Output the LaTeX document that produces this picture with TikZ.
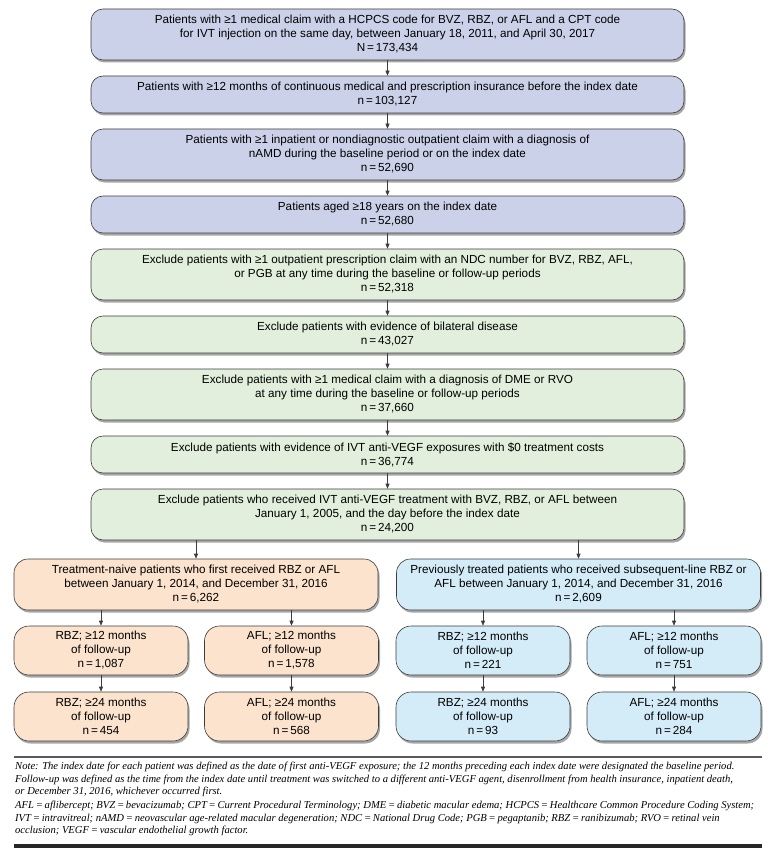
\documentclass[tikz,border=0pt]{standalone}
\usepackage{fontspec}
\setmainfont{Liberation Serif}
\setsansfont{Liberation Sans}
\usetikzlibrary{arrows.meta,shadows}
\definecolor{ink}{HTML}{3C3C3C}
\definecolor{lavender}{HTML}{CBD1E8}
\definecolor{mint}{HTML}{E1EFDC}
\definecolor{peach}{HTML}{FBE3CD}
\definecolor{sky}{HTML}{D3ECF8}
\definecolor{rulegray}{HTML}{5A5A5A}

\begin{document}
\begin{tikzpicture}[x=1pt,y=-1pt,>={Triangle[length=5pt,width=4pt]},
  font=\sffamily\fontsize{11.7}{14}\selectfont,
  flow/.style={draw=ink,line width=.6pt,align=center,inner sep=2pt,
    drop shadow={shadow xshift=1.5pt,shadow yshift=-2.5pt,opacity=.35,fill=black}},
  threeline/.style={flow,rounded corners=12pt,minimum width=593pt,minimum height=51pt},
  twoline/.style={flow,rounded corners=12pt,minimum width=593pt,minimum height=37pt},
  arm/.style={flow,rounded corners=14pt,minimum width=364pt,minimum height=51pt},
  leaf/.style={flow,rounded corners=15pt,minimum width=174pt,minimum height=49pt},
  link/.style={->,ink,line width=.6pt}]
  \useasboundingbox (0,0) rectangle (773,861);

  % Inclusion steps
  \node[threeline,fill=lavender] (claim) at (387.5,34.5) {Patients with ≥1 medical claim with a HCPCS code for BVZ, RBZ, or AFL and a CPT code\\for IVT injection on the same day, between January 18, 2011, and April 30, 2017\\N\,=\,173,434};
  \node[twoline,fill=lavender] (insur) at (387.5,94.5) {Patients with ≥12 months of continuous medical and prescription insurance before the index date\\n\,=\,103,127};
  \node[threeline,fill=lavender] (namd) at (387.5,154.5) {Patients with ≥1 inpatient or nondiagnostic outpatient claim with a diagnosis of\\nAMD during the baseline period or on the index date\\n\,=\,52,690};
  \node[twoline,fill=lavender] (age) at (387.5,214.5) {Patients aged ≥18 years on the index date\\n\,=\,52,680};

  % Exclusion steps
  \node[threeline,fill=mint] (ndc) at (387.5,274.5) {Exclude patients with ≥1 outpatient prescription claim with an NDC number for BVZ, RBZ, AFL,\\or PGB at any time during the baseline or follow-up periods\\n\,=\,52,318};
  \node[twoline,fill=mint] (bilat) at (387.5,334.5) {Exclude patients with evidence of bilateral disease\\n\,=\,43,027};
  \node[threeline,fill=mint] (dme) at (387.5,394.5) {Exclude patients with ≥1 medical claim with a diagnosis of DME or RVO\\at any time during the baseline or follow-up periods\\n\,=\,37,660};
  \node[twoline,fill=mint] (zero) at (387.5,454.5) {Exclude patients with evidence of IVT anti-VEGF exposures with \$0 treatment costs\\n\,=\,36,774};
  \node[threeline,fill=mint] (prior) at (387.5,514.5) {Exclude patients who received IVT anti-VEGF treatment with BVZ, RBZ, or AFL between\\January 1, 2005, and the day before the index date\\n\,=\,24,200};

  \foreach \a/\b in {claim/insur,insur/namd,namd/age,age/ndc,ndc/bilat,bilat/dme,dme/zero,zero/prior}
    \draw[link] (\a) -- (\b);

  % Cohorts
  \node[arm,fill=peach] (naive) at (196,584.5) {Treatment-naive patients who first received RBZ or AFL\\between January 1, 2014, and December 31, 2016\\n\,=\,6,262};
  \node[arm,fill=sky] (treated) at (578.5,584.5) {Previously treated patients who received subsequent-line RBZ or\\AFL between January 1, 2014, and December 31, 2016\\n\,=\,2,609};
  \draw[link] (prior.south -| naive.north) -- (naive.north);
  \draw[link] (prior.south -| treated.north) -- (treated.north);

  \foreach \id/\x/\col/\up/\drug/\na/\nb in {nr/101/peach/naive/RBZ/{1,087}/454,na/291.5/peach/naive/AFL/{1,578}/568,
      tr/483/sky/treated/RBZ/221/93,ta/674/sky/treated/AFL/751/284}{
    \node[leaf,fill=\col] (\id12) at (\x,650.5) {\drug; ≥12 months\\of follow-up\\n\,=\,\na};
    \node[leaf,fill=\col] (\id24) at (\x,716.5) {\drug; ≥24 months\\of follow-up\\n\,=\,\nb};
    \draw[link] (\up.south -| \id12.north) -- (\id12.north);
    \draw[link] (\id12) -- (\id24);
  }

  % Footnote
  \draw[rulegray,line width=1.6pt] (14,757) -- (762,757);
  \node[anchor=north west,align=left,inner sep=0pt,font=\rmfamily\itshape\fontsize{10.6}{12.4}\selectfont] (note) at (15,762)
    {Note: The index date for each patient was defined as the date of first anti-VEGF exposure; the 12 months preceding each index date were designated the baseline period.\\
     Follow-up was defined as the time from the index date until treatment was switched to a different anti-VEGF agent, disenrollment from health insurance, inpatient death,\\
     or December 31, 2016, whichever occurred first.\\[2pt]
     AFL\,=\,aflibercept; BVZ\,=\,bevacizumab; CPT\,=\,Current Procedural Terminology; DME\,=\,diabetic macular edema; HCPCS\,=\,Healthcare Common Procedure Coding System;\\
     IVT\,=\,intravitreal; nAMD\,=\,neovascular age-related macular degeneration; NDC\,=\,National Drug Code; PGB\,=\,pegaptanib; RBZ\,=\,ranibizumab; RVO\,=\,retinal vein\\
     occlusion; VEGF\,=\,vascular endothelial growth factor.};
  \draw[black!85,line width=3.5pt] (14,846) -- (762,846);
\end{tikzpicture}
\end{document}
